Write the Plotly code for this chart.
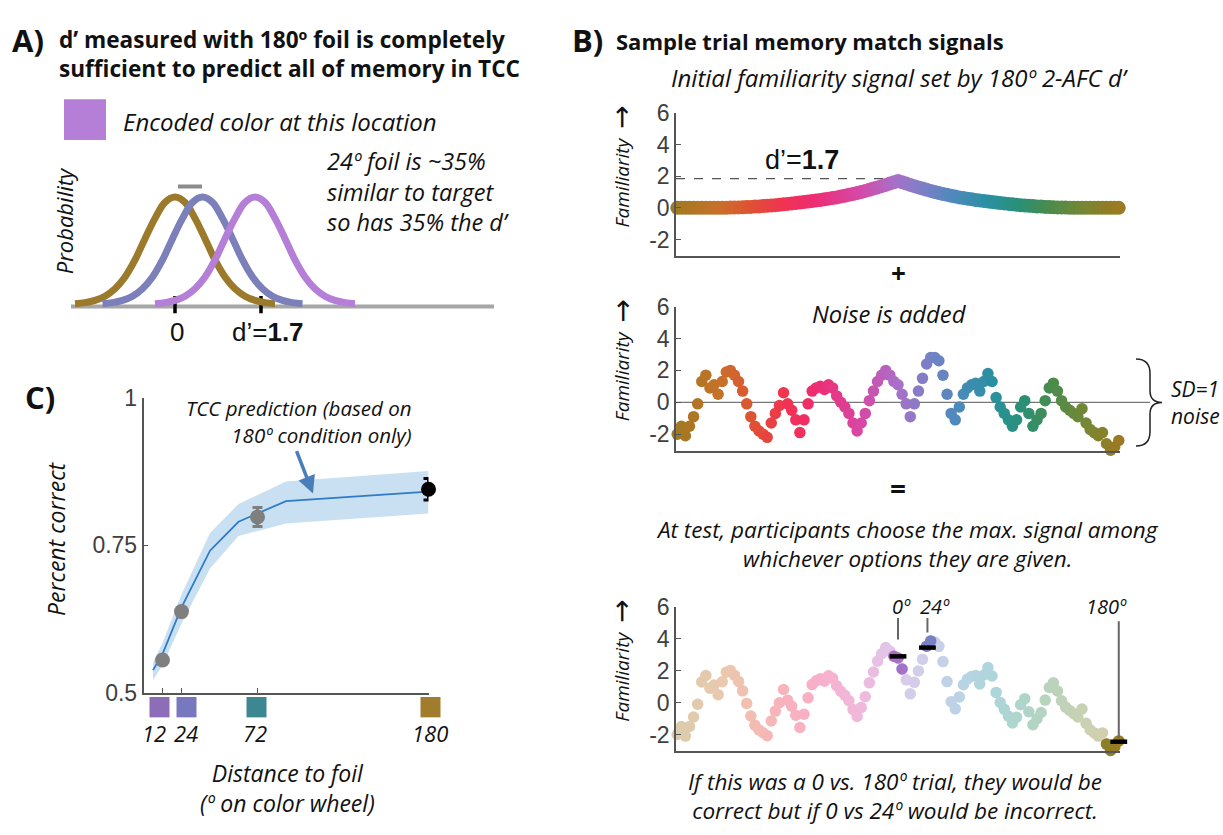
import numpy as np
import plotly.graph_objects as go

W, H = 1223, 835


def px(x):
    return x / W


def py(y):
    return 1 - y / H


# ======================= DATA =======================
# Panel A - schematic familiarity distributions (x in d' units)
a_curve_names = ["180º foil", "24º foil", "Encoded color"]
a_curve_centers = [0.0, 0.55, 1.6]
a_profile_offsets = [-2.0, -1.8, -1.6, -1.4, -1.2, -1.0, -0.8, -0.6, -0.4, -0.2, 0.0,
                     0.2, 0.4, 0.6, 0.8, 1.0, 1.2, 1.4, 1.6, 1.8, 2.0]
a_profile_heights = [0.0, 0.01, 0.03, 0.07, 0.14, 0.25, 0.41, 0.61, 0.80, 0.95, 1.0,
                     0.95, 0.80, 0.61, 0.41, 0.25, 0.14, 0.07, 0.03, 0.01, 0.0]
a_axis_ticks = [0.0, 1.72]
a_axis_ticklabels = ["0", "d’=<b>1.7</b>"]

# Panel B - sample trial memory-match signals (x = degrees on colour wheel)
b_angle_range = [-180, 180]
b_initial_signal = [
    0, 0, 0, 0, 0, 0, 0, 0, 0, 0, 0,
    0.01, 0.01, 0.02, 0.02, 0.03, 0.04, 0.05, 0.06, 0.08, 0.09,
    0.11, 0.13, 0.15, 0.17, 0.19, 0.22, 0.25, 0.28, 0.31, 0.34,
    0.37, 0.40, 0.43, 0.47, 0.50, 0.54, 0.58, 0.62, 0.66, 0.71,
    0.76, 0.82, 0.87, 0.93, 1.00, 1.07, 1.14, 1.22, 1.29, 1.37,
    1.45, 1.53, 1.61,
    1.70,
    1.61, 1.53, 1.45,
    1.37, 1.29, 1.22, 1.14, 1.07, 1.00, 0.93, 0.87, 0.82, 0.76,
    0.71, 0.66, 0.62, 0.58, 0.54, 0.50, 0.47, 0.43, 0.40, 0.37,
    0.34, 0.31, 0.28, 0.25, 0.22, 0.19, 0.17, 0.15, 0.13, 0.11,
    0.09, 0.08, 0.06, 0.05, 0.04, 0.03, 0.02, 0.02, 0.01, 0.01,
    0, 0, 0, 0, 0, 0, 0, 0, 0, 0, 0,
]
b_noise = [
    -2.0, -1.5, -2.1, -1.5, -0.9, -0.1, 1.3, 1.7, 0.9, 1.1,
    0.5, 1.3, 1.9, 2.0, 1.7, 1.3, 0.7, -0.1, -0.9, -1.5,
    -1.8, -2.0, -2.2, -1.3, -0.7, -0.2, 0.6, -0.1, -0.5, -1.1,
    -1.9, -1.1, -0.1, 0.7, 0.9, 1.0, 0.8, 1.1, 0.9, 0.4,
    0.0, -0.3, -0.7, -1.3, -1.8, -1.3, -0.7, 0.1, 0.7, 1.3,
    1.7, 2.0, 1.7, 1.3, 1.1, 0.5, -0.1, -0.9, -0.1, 0.7,
    1.5, 2.4, 2.8, 2.8, 2.6, 1.7, 0.5, -0.7, -1.1, -0.3,
    0.5, 0.9, 1.1, 1.2, 0.7, 1.3, 1.8, 1.3, 0.3, -0.3,
    -0.7, -1.1, -1.5, -1.1, -0.3, 0.1, -0.7, -1.5, -1.1, -0.7,
    0.1, 0.9, 1.2, 0.7, 0.1, -0.3, -0.5, -0.7, -0.9, -0.4,
    -1.3, -1.7, -1.9, -2.1, -1.9, -2.6, -3.0, -2.8, -2.4,
]
b_test_labels = ["0º", "24º", "180º"]
b_test_angles = [0, 24, 180]
b_test_values = [2.9, 3.45, -2.45]
b_highlight_windows = [(-4, 4), (22, 28), (169, 181)]

# Panel C - percent correct vs distance to foil
c_distances = [12, 24, 72, 180]
c_tick_labels = ["12", "24", "72", "180"]
c_percent_correct = [0.556, 0.638, 0.798, 0.845]
c_sem = [0.005, 0.006, 0.016, 0.018]
c_pred_x = [6, 12, 24, 42, 60, 90, 180]
c_pred_mean = [0.539, 0.566, 0.645, 0.741, 0.790, 0.825, 0.841]
c_pred_lower = [0.522, 0.547, 0.618, 0.711, 0.766, 0.787, 0.804]
c_pred_upper = [0.552, 0.585, 0.667, 0.771, 0.820, 0.858, 0.876]

# ======================= STYLE =======================
a_colors = ["#9C7A2C", "#7B7FBA", "#B57FD8"]
wheel_stops = [(-180, "#A07A22"), (-143, "#C8702A"), (-116, "#E05034"), (-92, "#F03450"),
               (-66, "#EE2C72"), (-29, "#D648A6"), (0, "#A870C8"), (25, "#7A80C6"),
               (49, "#4C8ABA"), (76, "#2A90A2"), (103, "#2A9074"), (126, "#4A8C4C"),
               (156, "#788632"), (180, "#9A7A22")]
c_swatch_colors = ["#8D6CB8", "#7878BE", "#3C8791", "#A07D2D"]
c_marker_colors = ["#7F7F7F", "#7F7F7F", "#7F7F7F", "#000000"]


def hex_to_rgb(h):
    h = h.lstrip("#")
    return tuple(int(h[i:i + 2], 16) for i in (0, 2, 4))


def pastel(h, a=0.38):
    r, g, b = hex_to_rgb(h)
    return "rgb(%d,%d,%d)" % tuple(round(a * c + (1 - a) * 255) for c in (r, g, b))


span = b_angle_range[1] - b_angle_range[0]
wheel_scale = [[(a - b_angle_range[0]) / span, c] for a, c in wheel_stops]
wheel_scale_pastel = [[(a - b_angle_range[0]) / span, pastel(c)] for a, c in wheel_stops]

TXT = "#111111"
NUMF = "Liberation Sans"
TXTF = "Open Sans"

b_angles = np.linspace(b_angle_range[0], b_angle_range[1], len(b_noise))
b_signal = np.array(b_initial_signal)
b_noise_arr = np.array(b_noise)
b_combined = b_signal + b_noise_arr

fig = go.Figure()

# ---------------- Panel A ----------------
for name, c, col in zip(a_curve_names, a_curve_centers, a_colors):
    fig.add_trace(go.Scatter(
        x=[c + o for o in a_profile_offsets], y=a_profile_heights, mode="lines",
        line=dict(color=col, width=7, shape="spline", smoothing=1.0),
        name=name, xaxis="x", yaxis="y", hoverinfo="skip"))

# ---------------- Panel B ----------------
marker_common = dict(color=b_angles, colorscale=wheel_scale, cmin=-180, cmax=180, line=dict(width=0))
fig.add_trace(go.Scatter(x=b_angles, y=b_signal, mode="markers", xaxis="x2", yaxis="y2",
                         marker=dict(size=14, **marker_common), cliponaxis=False, hoverinfo="skip"))
fig.add_trace(go.Scatter(x=b_angles, y=b_noise_arr, mode="markers", xaxis="x3", yaxis="y3",
                         marker=dict(size=11.5, **marker_common), cliponaxis=False, hoverinfo="skip"))
fig.add_trace(go.Scatter(x=b_angles, y=b_combined, mode="markers", xaxis="x4", yaxis="y4",
                         marker=dict(size=11.5, color=b_angles, colorscale=wheel_scale_pastel,
                                     cmin=-180, cmax=180, line=dict(width=0)),
                         cliponaxis=False, hoverinfo="skip"))
sel = np.zeros(len(b_angles), dtype=bool)
for lo, hi in b_highlight_windows:
    sel |= (b_angles >= lo) & (b_angles <= hi)
fig.add_trace(go.Scatter(x=b_angles[sel], y=b_combined[sel], mode="markers", xaxis="x4", yaxis="y4",
                         marker=dict(size=11.5, color=b_angles[sel], colorscale=wheel_scale,
                                     cmin=-180, cmax=180, line=dict(width=0)),
                         cliponaxis=False, hoverinfo="skip"))
fig.add_trace(go.Scatter(x=b_test_angles, y=b_test_values, mode="markers", xaxis="x4", yaxis="y4",
                         marker=dict(symbol="line-ew", size=12, line=dict(width=4.5, color="black")),
                         cliponaxis=False, hoverinfo="skip"))

# ---------------- Panel C ----------------
fig.add_trace(go.Scatter(x=c_pred_x + c_pred_x[::-1], y=c_pred_upper + c_pred_lower[::-1],
                         fill="toself", fillcolor="#C8E0F2", line=dict(width=0), mode="lines",
                         xaxis="x5", yaxis="y5", hoverinfo="skip"))
fig.add_trace(go.Scatter(x=c_pred_x, y=c_pred_mean, mode="lines", line=dict(color="#2F7CC4", width=1.8),
                         xaxis="x5", yaxis="y5", hoverinfo="skip"))
for d, pc, se, col in zip(c_distances, c_percent_correct, c_sem, c_marker_colors):
    fig.add_trace(go.Scatter(x=[d], y=[pc], mode="markers", xaxis="x5", yaxis="y5",
                             error_y=dict(type="data", array=[se], color=col, thickness=3, width=5),
                             marker=dict(size=15, color=col), cliponaxis=False, hoverinfo="skip"))

# ======================= LAYOUT =======================
b_x_dom = [px(676), px(1120)]
b_rows = [(103, 251), (303, 452), (613, 762)]


def b_xaxis(anchor):
    return dict(domain=b_x_dom, range=[-181, 181], anchor=anchor, showticklabels=False, ticks="",
                showline=True, linecolor="#555555", linewidth=1.5, showgrid=False, zeroline=False)


def b_yaxis(row, anchor):
    top, bot = row
    return dict(domain=[py(bot), py(top)], range=[-3.05, 6], anchor=anchor,
                tickvals=[-2, 0, 2, 4, 6], ticktext=["-2", "0", "2", "4", "6"],
                tickfont=dict(family=NUMF, size=23, color="#404040"), ticks="inside", ticklen=5,
                tickcolor="#555555", showline=True, linecolor="#555555", linewidth=1.5,
                showgrid=False, zeroline=False)


layout = dict(
    width=W, height=H, margin=dict(l=0, r=0, t=0, b=0),
    paper_bgcolor="white", plot_bgcolor="rgba(0,0,0,0)", showlegend=False,
    xaxis=dict(domain=[px(60), px(500)], range=[-2.3, 6.5], visible=False, anchor="y"),
    yaxis=dict(domain=[py(310), py(170)], range=[-10 / 110, 130 / 110], visible=False, anchor="x"),
    xaxis2=b_xaxis("y2"), yaxis2=b_yaxis(b_rows[0], "x2"),
    xaxis3=b_xaxis("y3"), yaxis3=b_yaxis(b_rows[1], "x3"),
    xaxis4=b_xaxis("y4"), yaxis4=b_yaxis(b_rows[2], "x4"),
    xaxis5=dict(domain=[px(143.5), px(428.5)], range=[0, 180], anchor="y5", tickvals=c_distances,
                showticklabels=False, ticks="inside", ticklen=5, tickcolor="#555555",
                showline=True, linecolor="#555555", linewidth=1.5, showgrid=False, zeroline=False),
    yaxis5=dict(domain=[py(702), py(397)], range=[0.5, 1.0], anchor="x5",
                tickvals=[0.5, 0.75, 1.0], ticktext=["0.5", "0.75", "1"],
                tickfont=dict(family=NUMF, size=23, color="#404040"), ticks="inside", ticklen=5,
                tickcolor="#555555", showline=True, linecolor="#555555", linewidth=1.5,
                showgrid=False, zeroline=False),
)

shapes = []
# Panel A shapes
shapes.append(dict(type="line", xref="x", yref="y", x0=-2.08, x1=6.38, y0=-3 / 110, y1=-3 / 110,
                   line=dict(color="#A6A6A6", width=4), layer="below"))
for t in a_axis_ticks:
    shapes.append(dict(type="line", xref="x", yref="y", x0=t, x1=t, y0=8 / 110, y1=-13 / 110,
                       line=dict(color="black", width=3.5), layer="below"))
shapes.append(dict(type="line", xref="x", yref="y", x0=0.06, x1=0.54, y0=1.10, y1=1.10,
                   line=dict(color="#8C8C8C", width=4)))
shapes.append(dict(type="rect", xref="paper", yref="paper", x0=px(64), x1=px(106), y0=py(131), y1=py(89),
                   fillcolor=a_colors[2], line=dict(width=0)))
# Panel B shapes
shapes.append(dict(type="line", xref="x2", yref="y2", x0=-181, x1=0, y0=1.85, y1=1.85,
                   line=dict(color="#555555", width=1.2, dash="dash"), layer="below"))
shapes.append(dict(type="line", xref="paper", yref="y3", x0=px(676), x1=px(1150), y0=0, y1=0,
                   line=dict(color="#777777", width=1.2), layer="below"))
for ang, y0, y1 in zip(b_test_angles, [3.95, 4.4, -2.2], [5.3, 5.3, 5.1]):
    shapes.append(dict(type="line", xref="x4", yref="y4", x0=ang, x1=ang, y0=y0, y1=y1,
                       line=dict(color="#666666", width=2)))
# curly brace
bp = [(1136, 357), (1146, 357), (1150, 362), (1150, 372), (1150, 390), (1150, 398), (1154, 402),
      (1162, 402), (1154, 402), (1150, 406), (1150, 414), (1150, 432), (1150, 442), (1146, 447),
      (1136, 447)]
P = ["%f,%f" % (px(a), py(b)) for a, b in bp]
path = ("M " + P[0] + " C " + P[1] + " " + P[2] + " " + P[3] + " L " + P[4] + " C " + P[5] + " " + P[6]
        + " " + P[7] + " C " + P[8] + " " + P[9] + " " + P[10] + " L " + P[11] + " C " + P[12] + " "
        + P[13] + " " + P[14])
shapes.append(dict(type="path", xref="paper", yref="paper", path=path, line=dict(color="#222222", width=1.5)))
# Panel C colour swatches
c_swatch_offsets = [-3, 5, -1, 2]
for d, col, off in zip(c_distances, c_swatch_colors, c_swatch_offsets):
    cx = 143.5 + d * 285 / 180 + off
    shapes.append(dict(type="rect", xref="paper", yref="paper", x0=px(cx - 10), x1=px(cx + 10),
                       y0=py(727), y1=py(706), fillcolor=col, line=dict(width=0)))
layout["shapes"] = shapes

ann = []


def A(x, y, text, size, family=TXTF, xanchor="center", yanchor="middle", angle=0, color=TXT, align="center"):
    ann.append(dict(xref="paper", yref="paper", x=px(x), y=py(y), text=text, showarrow=False,
                    font=dict(family=family, size=size, color=color), xanchor=xanchor,
                    yanchor=yanchor, textangle=angle, align=align))


# Panel A text
A(28, 28, "<b>A)</b>", 31)
A(57, 42, "<b>d’ measured with 180º foil is completely</b><br><b>sufficient to predict all of memory in TCC</b>",
  22.6, xanchor="left", align="left")
A(121, 112, "<i>Encoded color at this location</i>", 24, xanchor="left")
A(325, 184, "<i>24º foil is ~35%</i><br><i>similar to target</i><br><i>so has 35% the d’</i>",
  23.5, xanchor="left", align="left")
A(64, 215, "<i>Probability</i>", 22, angle=-90)
for t, lab, xs in zip(a_axis_ticks, a_axis_ticklabels, [2, 7]):
    ann.append(dict(xref="x", yref="paper", x=t, y=py(329), text=lab, showarrow=False, xshift=xs,
                    font=dict(family=NUMF, size=26, color=TXT), xanchor="center", yanchor="middle"))

# Panel B text
A(587, 28, "<b>B)</b>", 31)
A(614, 29, "<b>Sample trial memory match signals</b>", 22, xanchor="left")
A(900, 67, "<i>Initial familiarity signal set by 180º 2-AFC d’</i>", 24)
A(802, 152, "d’=<b>1.7</b>", 27, family=NUMF)
A(898, 268, "<b>+</b>", 26)
A(889, 311, "<i>Noise is added</i>", 23.8)
A(1169, 402, "<i>SD=1</i><br><i>noise</i>", 21, xanchor="left", align="left")
A(898, 490, "<b>=</b>", 28)
A(907, 548, "<i>At test, participants choose the max. signal among</i><br>"
            "<i>whichever options they are given.</i>", 22.5)
for lab, ang, xs in zip(b_test_labels, b_test_angles, [3, 8, -12]):
    ann.append(dict(xref="x4", yref="paper", x=ang, y=py(613), text="<i>" + lab + "</i>", showarrow=False,
                    xshift=xs, font=dict(family=TXTF, size=20, color=TXT), xanchor="center",
                    yanchor="middle"))
A(895, 808, "<i>If this was a 0 vs. 180º trial, they would be</i><br>"
            "<i>correct but if 0 vs 24º would be incorrect.</i>", 22.5)
for top in [103, 303, 613]:
    A(622, top + 72, "<i>Familiarity</i>", 19, angle=-90)
    A(622, top + 5, "→", 28, family="DejaVu Sans", angle=-90)

# Panel C text
A(40, 396, "<b>C)</b>", 31)
A(56, 543, "<i>Percent correct</i>", 23, angle=-90)
c_label_offsets = [-8, 4, -3, 1]
for d, lab, off in zip(c_distances, c_tick_labels, c_label_offsets):
    A(143.5 + d * 285 / 180 + off, 743, "<i>" + lab + "</i>", 22)
A(287, 800, "<i>Distance to foil</i><br><i>(º on color wheel)</i>", 23)
A(414, 422, "<i>TCC prediction (based on</i><br><i>180º condition only)</i>", 20.5,
  xanchor="right", align="right")
ann.append(dict(xref="paper", yref="paper", x=px(313), y=py(496),
                ax=296 - 313, ay=452 - 496, text="", showarrow=True, arrowhead=2, arrowsize=1,
                arrowwidth=3.5, arrowcolor="#4A7EBB"))
layout["annotations"] = ann

fig.update_layout(**layout)
fig.write_html("out.html", include_plotlyjs=True, full_html=True,
               config={"displayModeBar": False},
               post_script="document.body.style.margin='0';")
